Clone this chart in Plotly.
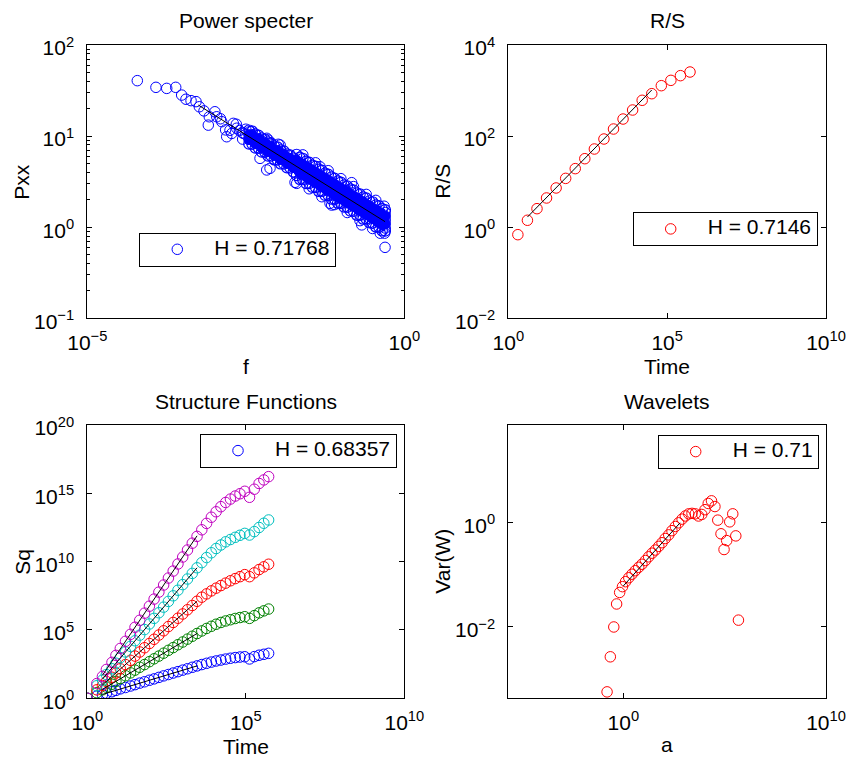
import plotly.graph_objects as go

# ---------------- Power specter (top-left) ----------------
ps_f_sparse = [6.15e-5, 1.21e-4, 1.79e-4, 2.48e-4, 3.08e-4, 3.60e-4, 4.33e-4, 5.19e-4, 5.85e-4, 6.93e-4,
               8.40e-4, 8.10e-4, 1.03e-3, 1.10e-3, 1.32e-3, 1.58e-3, 1.52e-3, 2.01e-3, 2.27e-3, 1.90e-3,
               2.89e-3, 3.68e-3, 5.30e-3, 7.62e-3, 0.0201, 7.16e-3, 0.0110, 0.0468, 0.148, 0.0673,
               1.26e-3, 2.51e-3, 2.82e-3, 3.16e-3, 1.78e-3, 2.24e-3, 2.82e-3, 3.16e-3,
               6.76e-3, 0.0189, 6.76e-3, 0.0103, 0.0716, 0.213, 0.497]
ps_p_sparse = [40.6, 34.3, 33.4, 34.3, 28.2, 25.4, 24.5, 23.9, 21.0, 18.9,
               16.3, 13.2, 18.5, 16.3, 14.4, 9.84, 11.7, 13.8, 12.2, 10.7,
               10.7, 11.2, 5.70, 4.43, 3.03, 9.06, 7.98, 4.61, 3.08, 1.83,
               15.5, 11.5, 10.9, 10.4, 11.6, 13.5, 9.27, 11.9,
               4.25, 3.11, 9.46, 8.13, 1.75, 1.06, 0.601]

band_f = [3.55e-3, 3.98e-3, 4.47e-3, 5.01e-3, 5.62e-3, 6.31e-3, 7.08e-3, 7.94e-3, 8.91e-3, 0.0100,
          0.0112, 0.0126, 0.0141, 0.0158, 0.0178, 0.0200, 0.0224, 0.0251, 0.0282, 0.0316,
          0.0355, 0.0398, 0.0447, 0.0501, 0.0562, 0.0631, 0.0708, 0.0794, 0.0891, 0.100,
          0.112, 0.126, 0.141, 0.158, 0.178, 0.200, 0.224, 0.251, 0.282, 0.316,
          0.355, 0.398, 0.447, 0.500]
band_p_row1 = [8.20, 8.17, 7.41, 7.40, 6.71, 6.68, 6.07, 6.05, 5.50, 5.47,
               4.97, 4.95, 4.50, 4.48, 4.06, 3.70, 3.36, 3.34, 3.03, 3.03,
               2.75, 2.74, 2.48, 2.48, 2.25, 2.24, 2.04, 2.03, 1.84, 1.83,
               1.67, 1.66, 1.51, 1.50, 1.36, 1.36, 1.23, 1.23, 1.12, 1.11,
               1.01, 1.00, 0.914, 0.910]
band_p_row2 = [9.20, 9.16, 8.32, 8.30, 7.53, 7.50, 6.81, 6.79, 6.17, 6.14,
               5.57, 5.56, 5.05, 5.02, 4.56, 4.45, 4.04, 4.02, 3.65, 3.64,
               3.30, 3.29, 2.99, 2.98, 2.70, 2.69, 2.45, 2.44, 2.21, 2.20,
               2.00, 2.00, 1.81, 1.80, 1.64, 1.63, 1.48, 1.48, 1.34, 1.34,
               1.21, 1.21, 1.10, 1.09]
band_p_row3 = [10.3, 10.3, 9.33, 9.31, 8.45, 8.41, 7.64, 7.62, 6.92, 6.89,
               6.25, 6.24, 5.66, 5.64, 5.12, 5.35, 4.85, 4.83, 4.39, 4.38,
               3.97, 3.95, 3.59, 3.58, 3.25, 3.24, 2.94, 2.93, 2.66, 2.65,
               2.41, 2.40, 2.18, 2.17, 1.97, 1.96, 1.78, 1.77, 1.61, 1.61,
               1.46, 1.45, 1.32, 1.32]
band_p_row4 = [11.6, 11.3, 10.5, 10.2, 9.48, 9.23, 8.57, 8.36, 7.76, 7.55,
               7.01, 6.84, 6.35, 6.18, 5.74, 6.28, 5.83, 5.68, 5.27, 5.14,
               4.78, 4.65, 4.32, 4.21, 3.91, 3.80, 3.54, 3.44, 3.20, 3.11,
               2.90, 2.82, 2.62, 2.55, 2.37, 2.31, 2.14, 2.08, 1.94, 1.89,
               1.75, 1.71, 1.59, 1.55]
ps_f_edge = [0.0251, 0.0398, 0.0631, 0.100, 0.158, 0.251, 0.355,
             0.0316, 0.0501, 0.0794, 0.126, 0.200, 0.316, 0.417,
             0.480, 0.490, 0.500, 0.500, 0.500]
ps_p_edge = [6.22, 5.09, 4.17, 3.41, 2.79, 2.29, 1.97,
             2.64, 2.16, 1.77, 1.45, 1.18, 0.968, 0.859,
             1.70, 0.86, 1.20, 1.45, 0.98]
ps_fit_f = [5.64e-4, 0.497]
ps_fit_p = [21.9, 1.15]

# ---------------- R/S (top-right) ----------------
rs_time = [2, 4, 8, 16, 32, 64, 128, 256, 512, 1024, 2048, 4096, 8192, 16384,
           32768, 65536, 131072, 262144, 524288]
rs_value = [0.685, 1.42, 2.55, 4.38, 7.26, 11.8, 19.3, 31.9, 52.1, 86.3, 143, 237,
            374, 611, 853, 1279, 1675, 2123, 2553]
rs_fit_time = [4, 32768]
rs_fit_value = [1.67, 1028]

# ---------------- Structure functions (bottom-left) ----------------
sf_time = [1, 2, 3, 4, 6, 8, 11, 16, 23, 32, 45, 64, 91, 128, 181, 256, 362, 512, 724, 1024,
           1448, 2048, 2896, 4096, 5793, 8192, 11585, 16384, 23170, 32768, 46341, 65536,
           92682, 131072, 185364, 262144, 370728, 524288]
sq_q1 = [1, 1.45, 1.86, 2.34, 3.02, 3.80, 4.90, 6.17, 7.94, 10.0, 12.9, 16.2, 20.9, 26.3, 33.9,
         43.7, 55.0, 70.8, 89.1, 115, 145, 186, 234, 295, 363, 447, 537, 631, 741, 851, 955,
         1047, 1096, 759, 1122, 1413, 1660, 1950]
sq_q2 = [1, 2.57, 4.17, 6.61, 10.7, 17.4, 27.5, 44.7, 72.4, 115, 186, 295, 479, 776, 1.23e3,
         2.00e3, 3.24e3, 5.13e3, 8.32e3, 1.32e4, 2.14e4, 3.47e4, 5.50e4, 8.51e4, 1.29e5, 1.86e5,
         2.63e5, 3.55e5, 4.57e5, 5.62e5, 6.92e5, 8.13e5, 9.33e5, 7.08e5, 1.12e6, 1.78e6, 2.51e6,
         3.39e6]
sq_q3 = [1, 4.17, 8.51, 17.0, 34.7, 70.8, 145, 295, 603, 1.23e3, 2.45e3, 5.01e3, 1.02e4, 2.09e4,
         4.27e4, 8.71e4, 1.78e5, 3.55e5, 7.24e5, 1.48e6, 3.02e6, 6.17e6, 1.26e7, 2.51e7, 4.37e7,
         7.24e7, 1.15e8, 1.78e8, 2.69e8, 3.98e8, 5.75e8, 7.94e8, 1.12e9, 7.94e8, 1.51e9, 2.63e9,
         4.17e9, 6.46e9]
sq_q4 = [1, 8.32, 21.4, 55.0, 145, 372, 955, 2.45e3, 6.31e3, 1.62e4, 4.17e4, 1.07e5, 2.75e5,
         7.08e5, 1.82e6, 4.68e6, 1.23e7, 3.16e7, 8.13e7, 2.09e8, 5.37e8, 1.38e9, 3.55e9, 8.51e9,
         2.00e10, 4.47e10, 9.12e10, 1.66e11, 2.82e11, 4.17e11, 6.03e11, 8.51e11, 1.17e12, 8.91e11,
         1.58e12, 3.16e12, 6.46e12, 1.12e13]
sq_q5 = [1, 12.0, 39.8, 129, 427, 1.38e3, 4.47e3, 1.48e4, 4.79e4, 1.58e5, 5.13e5, 1.70e6, 5.50e6,
         1.82e7, 5.89e7, 1.95e8, 6.31e8, 2.04e9, 6.76e9, 2.19e10, 7.08e10, 2.24e11, 7.08e11,
         2.14e12, 6.31e12, 1.78e13, 4.47e13, 1.05e14, 2.14e14, 3.80e14, 6.31e14, 9.33e14, 1.41e15,
         5.13e14, 2.00e15, 5.25e15, 9.55e15, 1.66e16]
sf_fit_time = [3, 2896]
sf_fit_q1 = [1.92, 234]
sf_fit_q2 = [4.50, 5.50e4]
sf_fit_q3 = [9.50, 1.26e7]
sf_fit_q4 = [25.1, 3.55e9]
sf_fit_q5 = [47.9, 7.76e11]

# ---------------- Wavelets (bottom-right) ----------------
wv_a = [0.158, 0.229, 0.339, 0.468, 0.661, 0.912, 1.29, 1.86, 2.69, 3.89, 5.75, 8.32, 12.3,
        17.8, 26.3, 38.0, 56.2, 81.3, 117, 174, 251, 372, 537, 794, 1148, 1698, 2455, 3548,
        5129, 7413, 10715, 15488, 22387, 33113, 45709, 66069, 93325, 125893, 177828, 251189,
        354813, 478630]
wv_var = [5.75e-4, 2.69e-3, 1.00e-2, 2.75e-2, 4.57e-2, 5.89e-2, 7.33e-2, 8.71e-2, 0.102, 0.119,
          0.138, 0.158, 0.186, 0.219, 0.257, 0.295, 0.347, 0.407, 0.490, 0.575, 0.692, 0.832,
          0.977, 1.15, 1.32, 1.45, 1.48, 1.45, 1.32, 1.41, 1.74, 2.29, 2.57, 2.00, 1.10, 0.603,
          0.302, 0.447, 1.02, 1.45, 0.550, 0.0135]
wv_fit_a = [1.0, 631]
wv_fit_var = [0.0607, 0.977]

# tick exponents
ps_x_exp, ps_y_exp = [-5, 0], [-1, 0, 1, 2]
rs_x_exp, rs_y_exp = [0, 5, 10], [-2, 0, 2, 4]
sf_x_exp, sf_y_exp = [0, 5, 10], [0, 5, 10, 15, 20]
wv_x_exp, wv_y_exp = [0, 10], [-2, 0]
ps_y_minor = [m * 10.0 ** e for e in [-1, 0, 1] for m in range(2, 10)]

FONT = "Liberation Sans, Arial, Helvetica, sans-serif"
BLUE, RED, GREEN, CYAN, MAGENTA = "#0000FF", "#FF0000", "#008000", "#00BFBF", "#BF00BF"
MSIZE = 10.5


def ptext(e):
    s = str(e).replace("-", "\u2212")
    return f"10<sup>{s}</sup>"


def ticks(exps):
    return dict(tickvals=[10.0 ** e for e in exps], ticktext=[ptext(e) for e in exps])


fig = go.Figure()


def rings(x, y, color, xa, ya, name=None, legend=None, lw=1.0, symbol="circle-open"):
    fig.add_trace(go.Scatter(
        x=x, y=y, mode="markers", xaxis=xa, yaxis=ya,
        marker=dict(symbol=symbol, size=MSIZE, color=color, line=dict(width=lw, color=color)),
        name=name if name else "", showlegend=name is not None, legend=legend,
        hoverinfo="skip"))


def fitline(x, y, xa, ya):
    fig.add_trace(go.Scatter(x=x, y=y, mode="lines", xaxis=xa, yaxis=ya,
                             line=dict(color="black", width=1), showlegend=False, hoverinfo="skip"))


def legname(t):
    return f'<span style="font-size:21px">{t}</span>'


# Power specter: the dense core is so crowded with rings that it reads as solid blue
fig.add_trace(go.Scatter(x=band_f, y=band_p_row1, mode="lines", line=dict(width=1, color=BLUE),
                         xaxis="x", yaxis="y", showlegend=False, hoverinfo="skip"))
fig.add_trace(go.Scatter(x=band_f, y=band_p_row4, mode="lines", line=dict(width=1, color=BLUE),
                         fill="tonexty", fillcolor=BLUE,
                         xaxis="x", yaxis="y", showlegend=False, hoverinfo="skip"))
for row in [band_p_row2, band_p_row3]:
    rings(band_f, row, BLUE, "x", "y", symbol="circle")
for row in [band_p_row1, band_p_row4]:
    rings(band_f, row, BLUE, "x", "y", lw=1.2)
rings(ps_f_edge, ps_p_edge, BLUE, "x", "y")
rings(ps_f_sparse, ps_p_sparse, BLUE, "x", "y", name=legname("H = 0.71768"), legend="legend")
fitline(ps_fit_f, ps_fit_p, "x", "y")

# R/S
rings(rs_time, rs_value, RED, "x2", "y2", name=legname("H = 0.7146"), legend="legend2")
fitline(rs_fit_time, rs_fit_value, "x2", "y2")

# Structure functions
rings(sf_time, sq_q1, BLUE, "x3", "y3", name=legname("H = 0.68357"), legend="legend3")
rings(sf_time, sq_q2, GREEN, "x3", "y3")
rings(sf_time, sq_q3, RED, "x3", "y3")
rings(sf_time, sq_q4, CYAN, "x3", "y3")
rings(sf_time, sq_q5, MAGENTA, "x3", "y3")
for fy in [sf_fit_q1, sf_fit_q2, sf_fit_q3, sf_fit_q4, sf_fit_q5]:
    fitline(sf_fit_time, fy, "x3", "y3")

# Wavelets
rings(wv_a, wv_var, RED, "x4", "y4", name=legname("H = 0.71"), legend="legend4")
fitline(wv_fit_a, wv_fit_var, "x4", "y4")

W, H = 851, 762
colL = [87.3 / W, 404.3 / W]
colR = [508.3 / W, 826.0 / W]
rowT = [1 - 318.3 / H, 1 - 45.0 / H]
rowB = [1 - 698.3 / H, 1 - 425.0 / H]


def axis(dom, rng, exps, anchor, is_y, minor=None):
    d = dict(type="log", domain=dom, range=rng, anchor=anchor, showgrid=False, zeroline=False,
             automargin=False,
             showline=True, linecolor="black", linewidth=1, mirror="ticks", ticks="inside",
             ticklen=5, tickwidth=1, tickcolor="black",
             tickfont=dict(family=FONT, size=21, color="black"), **ticks(exps))
    if is_y:
        d.update(ticklabelstandoff=8, ticklabelshift=3)
    else:
        d.update(ticklabelstandoff=5)
    if minor is not None:
        d["minor"] = dict(tickvals=minor, ticks="inside", ticklen=3, tickcolor="black", tickwidth=1)
    return d


legend_common = dict(bgcolor="white", bordercolor="black", borderwidth=1,
                     font=dict(family=FONT, size=14, color="black"), itemwidth=64,
                     xanchor="left", yanchor="top", itemclick=False, itemdoubleclick=False)

fig.update_layout(
    template="none",
    width=W, height=H, autosize=False,
    margin=dict(l=0, r=0, t=0, b=0, autoexpand=False),
    paper_bgcolor="white", plot_bgcolor="white",
    font=dict(family=FONT, size=21, color="black"),
    xaxis=axis(colL, [-5, 0], ps_x_exp, "y", False),
    yaxis=axis(rowT, [-1, 2], ps_y_exp, "x", True, minor=ps_y_minor),
    xaxis2=axis(colR, [0, 10], rs_x_exp, "y2", False),
    yaxis2=axis(rowT, [-2, 4], rs_y_exp, "x2", True),
    xaxis3=axis(colL, [0, 10], sf_x_exp, "y3", False),
    yaxis3=axis(rowB, [0, 20], sf_y_exp, "x3", True),
    xaxis4=axis(colR, [-5.674, 10], wv_x_exp, "y4", False),
    yaxis4=axis(rowB, [-3.363, 1.859], wv_y_exp, "x4", True),
    legend=dict(legend_common, x=139.3 / W, y=1 - 232.7 / H),
    legend2=dict(legend_common, x=632.7 / W, y=1 - 212.3 / H),
    legend3=dict(legend_common, x=200.0 / W, y=1 - 434.0 / H),
    legend4=dict(legend_common, x=657.7 / W, y=1 - 435.0 / H),
)

ann = []


def text(t, x, y, angle=0):
    ann.append(dict(text=t, x=x, y=y, xref="paper", yref="paper", showarrow=False,
                    xanchor="center", yanchor="middle", textangle=angle,
                    font=dict(family=FONT, size=21, color="black")))


cxL, cxR = sum(colL) / 2, sum(colR) / 2
cyT, cyB = sum(rowT) / 2, sum(rowB) / 2
text("Power specter", cxL, 1 - 21 / H)
text("R/S", cxR, 1 - 21 / H)
text("Structure Functions", cxL, 1 - 401 / H)
text("Wavelets", cxR, 1 - 401 / H)
text("f", cxL, 1 - 366 / H)
text("Time", cxR, 1 - 366 / H)
text("Time", cxL, 1 - 746 / H)
text("a", cxR, 1 - 744 / H)
text("Pxx", 22 / W, cyT, -90)
text("R/S", 443 / W, cyT, -90)
text("Sq", 23 / W, cyB, -90)
text("Var(W)", 443 / W, cyB, -90)
fig.update_layout(annotations=ann)

fig.write_html("out.html")
